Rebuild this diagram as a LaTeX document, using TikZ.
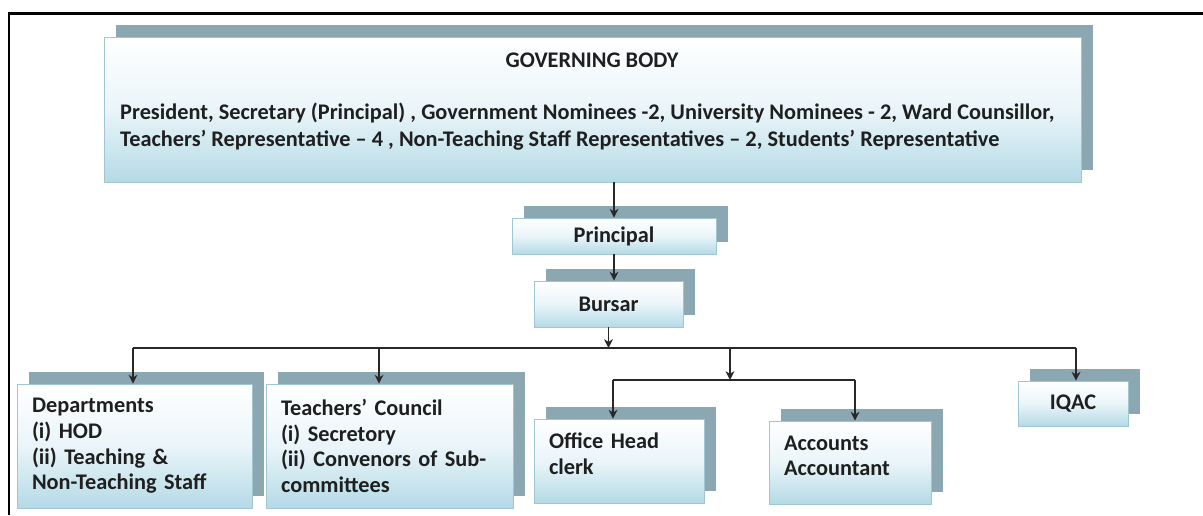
\documentclass[tikz,border=0pt]{standalone}
\usepackage{fontspec}
\setmainfont{Carlito}
\usetikzlibrary{arrows.meta,shadows}
\definecolor{shadowgray}{RGB}{139,167,178}
\definecolor{boxblue}{RGB}{180,218,230}
\definecolor{boxmid}{RGB}{234,245,249}
\definecolor{boxline}{RGB}{160,198,210}
\definecolor{linkgray}{RGB}{40,40,40}

\begin{document}
\begin{tikzpicture}[
  x=0.02cm, y=-0.02cm,
  every node/.style={font=\bfseries\fontsize{12.7}{14.6}\selectfont, text=black!88},
  orgbox/.style={draw=boxline, line width=0.4pt, top color=white, bottom color=boxblue, middle color=boxmid,
    drop shadow={shadow xshift=0.24cm, shadow yshift=0.24cm, fill=shadowgray, opacity=1}},
  listbox/.style={orgbox, align=left, inner xsep=0.3cm},
  link/.style={line width=0.8pt, draw=linkgray},
  >={Stealth[length=5pt,width=5pt,inset=1.5pt]}
]
\useasboundingbox (0,0) rectangle (1203,515);
\draw[line width=1.7pt] (9,515) -- (9,13) -- (1203,13);

\node[orgbox, minimum width=19.54cm, minimum height=2.9cm] (gb) at (592.5,109.5) {};
\node (gbtitle) at (592,60) {GOVERNING BODY};
\node[align=left, anchor=west, font=\bfseries\fontsize{12.7}{15.4}\selectfont] (gbmembers) at (114,126.5)
  {President, Secretary (Principal) , Government Nominees -2, University Nominees - 2, Ward Counsillor,\\
   Teachers' Representative – 4 , Non-Teaching Staff Representatives – 2, Students' Representative};

\node[orgbox, minimum width=4.08cm, minimum height=0.72cm] (principal) at (614,236) {Principal};
\node[orgbox, minimum width=2.98cm, minimum height=0.92cm] (bursar) at (608.5,304) {Bursar};

\node[listbox, text width=4.10cm, minimum height=2.48cm] (dept) at (134.5,446)
  {Departments\\(i) HOD\\(ii) Teaching \&\\Non-Teaching Staff};
\node[listbox, text width=4.34cm, minimum height=2.48cm] (teachers) at (389.5,446)
  {Teachers' Council\\(i) Secretory\\(ii) Convenors of Sub-\\committees};
\node[listbox, text width=2.80cm, minimum height=1.68cm] (office) at (619,461)
  {Office Head\\clerk\par\vspace{0.28cm}};
\node[listbox, text width=2.64cm, minimum height=1.66cm] (accounts) at (850,462.5)
  {Accounts\\Accountant\par\vspace{0.26cm}};
\node[orgbox, minimum width=2.2cm, minimum height=0.9cm] (iqac) at (1073,403.5) {IQAC};

\coordinate (hub) at (610,348);
\coordinate (dpdrop) at (133,348);
\coordinate (tcdrop) at (379,348);
\coordinate (split) at (730,348);
\coordinate (iqdrop) at (1076,348);
\coordinate (sub) at (730,380);
\coordinate (ofdrop) at (613,380);
\coordinate (acdrop) at (855,380);

\draw[link,->] (principal.north |- gb.south) -- (principal.north);
\draw[link,->] (principal.south) -- (bursar.north -| principal.south);
\draw[link,->] (bursar.south) -- (bursar.south |- hub);
\draw[link] (dpdrop) -- (iqdrop);
\draw[link,->] (dpdrop) -- (dpdrop |- dept.north);
\draw[link,->] (tcdrop) -- (tcdrop |- teachers.north);
\draw[link,->] (split) -- (sub);
\draw[link,->] (iqdrop) -- (iqdrop |- iqac.north);
\draw[link] (ofdrop) -- (acdrop);
\draw[link,->] (ofdrop) -- (ofdrop |- office.north);
\draw[link,->] (acdrop) -- (acdrop |- accounts.north);
\end{tikzpicture}
\end{document}
